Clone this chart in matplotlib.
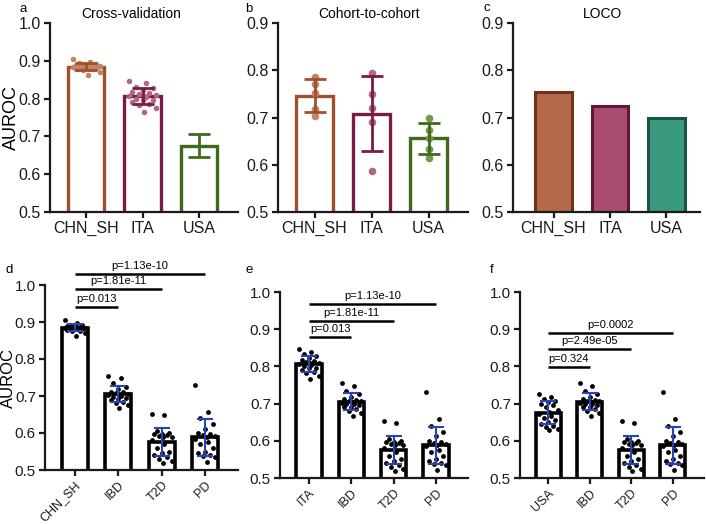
import numpy as np
import matplotlib
matplotlib.use("Agg")
from matplotlib import pyplot as plt

plt.rcParams['font.family'] = ['Liberation Sans', 'DejaVu Sans']

# AUROC values per repeat
chn_sh = [0.905, 0.897, 0.893, 0.891, 0.889, 0.888, 0.887, 0.886, 0.885, 0.884,
          0.884, 0.883, 0.882, 0.881, 0.880, 0.879, 0.877, 0.875, 0.870, 0.862]
ita = [0.847, 0.840, 0.832, 0.828, 0.822, 0.818, 0.815, 0.812, 0.810, 0.808,
       0.806, 0.803, 0.800, 0.797, 0.795, 0.790, 0.786, 0.782, 0.775, 0.765]
usa = [0.725, 0.718, 0.712, 0.708, 0.705, 0.700, 0.695, 0.690, 0.684, 0.678,
       0.672, 0.668, 0.662, 0.655, 0.650, 0.645, 0.640, 0.636, 0.632, 0.628]
ibd = [0.755, 0.748, 0.735, 0.725, 0.718, 0.712, 0.710, 0.708, 0.706, 0.704,
       0.702, 0.700, 0.698, 0.695, 0.692, 0.690, 0.685, 0.680, 0.675, 0.668]
t2d = [0.652, 0.648, 0.605, 0.600, 0.598, 0.596, 0.594, 0.592, 0.590, 0.588,
       0.580, 0.570, 0.560, 0.550, 0.545, 0.540, 0.535, 0.530, 0.525, 0.520]
pd_ = [0.730, 0.658, 0.640, 0.625, 0.612, 0.600, 0.596, 0.594, 0.592, 0.590,
       0.585, 0.575, 0.570, 0.560, 0.550, 0.545, 0.540, 0.538, 0.535, 0.522]

# cohort-to-cohort AUROCs
c2c_chn = [0.785, 0.771, 0.752, 0.719, 0.703]
c2c_ita = [0.795, 0.750, 0.721, 0.690, 0.586]
c2c_usa = [0.700, 0.674, 0.657, 0.633, 0.615]

# leave-one-cohort-out
loco_cats = ['CHN_SH', 'ITA', 'USA']
loco_vals = [0.753, 0.724, 0.698]

cohorts = ['CHN_SH', 'ITA', 'USA']
dis_cats = ['IBD', 'T2D', 'PD']

pvals_d = ['p=0.013', 'p=1.81e-11', 'p=1.13e-10']
pvals_e = ['p=0.013', 'p=1.81e-11', 'p=1.13e-10']
pvals_f = ['p=0.324', 'p=2.49e-05', 'p=0.0002']
ylines_d = [0.941, 0.989, 1.030]
ylines_e = [0.879, 0.922, 0.968]
ylines_f = [0.798, 0.847, 0.890]

edge_cols = ['#A0502A', '#7A1C45', '#3F6A1C']
dot_cols = ['#C08466', '#B06888', '#749A52']
loco_fill = ['#B5694A', '#A94C72', '#3A9A80']
loco_edge = ['#6E3218', '#62163A', '#1B5444']
blue = '#2544B5'

# horizontal spread pattern for the dots
jit = np.array([-0.24, 0.06, -0.12, 0.18, 0.0, -0.18, 0.12, -0.06, 0.24, 0.03])


def style(ax, ymax, fs=11.5):
    for s in ['top', 'right']:
        ax.spines[s].set_visible(False)
    for s in ['left', 'bottom']:
        ax.spines[s].set_linewidth(1.6)
        ax.spines[s].set_color('#1a1a1a')
    ax.tick_params(axis='both', direction='out', length=4.5, width=1.6, pad=2,
                   labelsize=fs, colors='#1a1a1a')
    ax.set_ylim(0.5, ymax)
    ticks = np.arange(0.5, ymax + 0.001, 0.1)
    ax.set_yticks(ticks)
    ax.set_yticklabels(['%.1f' % v for v in ticks])


fig = plt.figure(figsize=(7.06, 5.24), dpi=100)

W, H = 706.0, 524.0


def add_ax(l, r, top, bot):
    return fig.add_axes([l / W, 1 - bot / H, (r - l) / W, (bot - top) / H])


# ---- a: cross validation
ax = add_ax(50, 238, 23, 212)
groups = [chn_sh, ita, usa]
for i, g in enumerate(groups):
    m, s = np.mean(g), np.std(g, ddof=1)
    ax.bar(i, m, width=0.65, color='white', edgecolor=edge_cols[i], linewidth=2.4, zorder=2)
    if i < 2:
        ax.scatter(i + np.resize(jit, len(g)), g, s=16, color=dot_cols[i],
                   zorder=3, linewidths=0)
    ax.errorbar(i, m, yerr=s, color=edge_cols[i], capsize=8, elinewidth=2,
                capthick=2, zorder=4)
ax.set_xlim(-0.64, 2.69)
ax.set_xticks(range(3))
ax.set_xticklabels(cohorts)
style(ax, 1.0)
ax.set_ylabel('AUROC', fontsize=13)
ax.yaxis.set_label_coords(-0.16, 0.5)
ax.text(0.43, 1.045, 'Cross-validation', transform=ax.transAxes, ha='center',
        va='center', fontsize=10)

# ---- b: cohort to cohort
ax = add_ax(278, 468, 23, 212)
groups = [c2c_chn, c2c_ita, c2c_usa]
for i, g in enumerate(groups):
    m, s = np.mean(g), np.std(g, ddof=1)
    ax.bar(i, m, width=0.65, color='white', edgecolor=edge_cols[i], linewidth=2.4, zorder=2)
    ax.scatter(np.full(len(g), i), g, s=30, color=dot_cols[i], zorder=3, linewidths=0)
    ax.errorbar(i, m, yerr=s, color=edge_cols[i], capsize=8, elinewidth=2,
                capthick=2, zorder=4)
ax.set_xlim(-0.64, 2.69)
ax.set_xticks(range(3))
ax.set_xticklabels(cohorts)
style(ax, 0.9)
ax.text(0.48, 1.045, 'Cohort-to-cohort', transform=ax.transAxes, ha='center',
        va='center', fontsize=10)

# ---- c: LOCO
ax = add_ax(513, 700, 23, 212)
ax.bar(range(3), loco_vals, width=0.65, color=loco_fill, edgecolor=loco_edge,
       linewidth=2.2, zorder=2)
ax.set_xlim(-0.72, 2.6)
ax.set_xticks(range(3))
ax.set_xticklabels(loco_cats)
style(ax, 0.9)
ax.text(0.476, 1.045, 'LOCO', transform=ax.transAxes, ha='center',
        va='center', fontsize=10)


# ---- d, e, f: cohort vs other diseases
def disease_panel(ax, first, first_name, pv, yl):
    groups = [first, ibd, t2d, pd_]
    for i, g in enumerate(groups):
        m, s = np.mean(g), np.std(g, ddof=1)
        ax.bar(i, m, width=0.6, color='white', edgecolor='black', linewidth=2.6, zorder=2)
        ax.scatter(i + np.resize(jit, len(g)) * 0.95, g, s=12, color='black',
                   zorder=3, linewidths=0)
        ax.errorbar(i, m, yerr=s, color=blue, capsize=6, elinewidth=1.5,
                    capthick=1.5, zorder=4)
    ax.set_xlim(-0.68, 3.75)
    ax.set_xticks(range(4))
    ax.set_xticklabels([first_name] + dis_cats, rotation=45, ha='right',
                       rotation_mode='anchor')
    style(ax, 1.0, fs=11)
    ax.tick_params(axis='x', labelsize=9)
    for j, (p, y) in enumerate(zip(pv, yl)):
        ax.plot([0, j + 1], [y, y], color='black', lw=1.8, clip_on=False,
                solid_capstyle='butt')
        ax.text((j + 1) / 2.0, y + 0.008, p, ha='center', va='bottom',
                fontsize=8, clip_on=False)


ax = add_ax(45, 238, 285, 470)
disease_panel(ax, chn_sh, 'CHN_SH', pvals_d, ylines_d)
ax.set_ylabel('AUROC', fontsize=12)
ax.yaxis.set_label_coords(-0.148, 0.5)

ax = add_ax(280, 468, 292, 478)
disease_panel(ax, ita, 'ITA', pvals_e, ylines_e)

ax = add_ax(520, 704, 292, 478)
disease_panel(ax, usa, 'USA', pvals_f, ylines_f)

# panel letters
for lab, x, y in [('a', 20, 9), ('b', 245, 9), ('c', 483, 8),
                  ('d', 5, 270), ('e', 245, 270), ('f', 490, 270)]:
    fig.text(x / W, 1 - y / H, lab, fontsize=9.5, ha='left', va='center')

fig.savefig('out.png', dpi=100)
